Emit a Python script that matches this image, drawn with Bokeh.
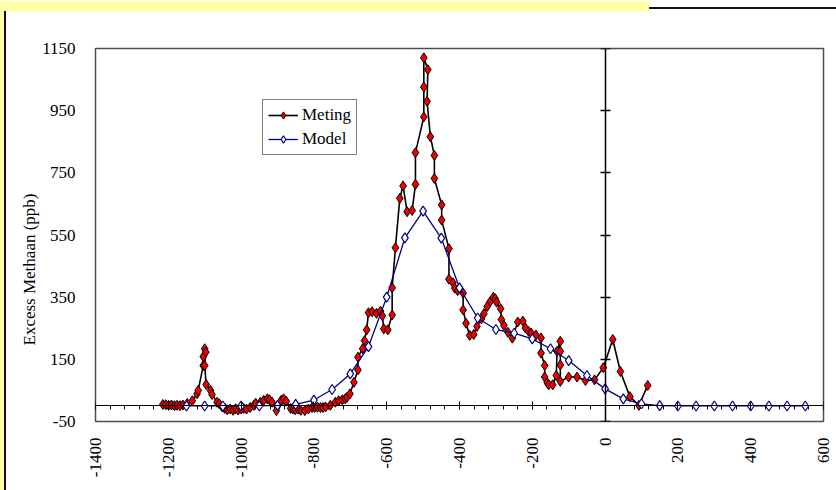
from math import pi
from bokeh.plotting import figure
from bokeh.models import (LinearAxis, FixedTicker, Legend, LegendItem, Div, Title,
                          CustomJSTickFormatter, Range1d, ColumnDataSource)
from bokeh.layouts import column, row
from bokeh.embed import file_html
from bokeh.resources import INLINE

# Measured excess methane along the transect (distance, ppb)
meting_x = [-1215, -1207, -1199, -1191, -1183, -1176, -1168, -1160, -1148, -1134,
            -1121, -1118, -1104, -1104, -1100, -1097, -1100, -1096, -1084, -1080,
            -1066, -1060, -1052, -1045, -1038, -1030, -1022, -1015, -1008, -1000,
            -993, -985, -975, -965, -960, -947, -938, -928, -922, -915,
            -903, -897, -890, -883, -876, -864, -857, -851, -843, -836,
            -825, -815, -805, -798, -790, -782, -775, -768, -755, -741,
            -732, -722, -714, -709, -701, -690, -679, -679, -666, -661,
            -655, -650, -640, -628, -617, -612, -608, -597, -585, -585,
            -576, -564, -555, -544, -530, -521, -521, -498, -498, -498,
            -487, -489, -480, -469, -469, -449, -449, -429, -429, -418,
            -413, -405, -390, -390, -382, -372, -361, -352, -340, -333,
            -324, -315, -307, -302, -298, -287, -285, -278, -267, -255,
            -240, -226, -219, -210, -203, -190, -176, -176, -166, -166,
            -159, -155, -144, -134, -132, -123, -123, -123, -123, -100,
            -77, -54, -29, -5, 21, 42, 68, 93, 117]
meting_y = [5, 4, 2, 3, 1, 2, 1, 3, 8, 17,
            39, 50, 130, 159, 184, 173, 130, 69, 50, 37,
            12, 7, -3, -8, -12, -10, -14, -9, -13, -10,
            -8, -10, -5, 2, 9, 12, 18, 23, 20, 12,
            -15, 5, 18, 23, 15, -8, -10, -12, -10, -14,
            -15, -10, -5, -5, -4, -5, -5, -3, 2, 12,
            17, 20, 23, 28, 39, 76, 116, 157, 184, 210,
            245, 300, 303, 298, 305, 290, 248, 245, 293, 380,
            509, 668, 708, 625, 629, 713, 815, 930, 1026, 1120,
            1082, 980, 866, 806, 732, 647, 598, 506, 408, 396,
            379, 371, 363, 309, 266, 227, 230, 256, 280, 297,
            320, 337, 350, 345, 334, 313, 278, 259, 237, 218,
            270, 273, 251, 240, 234, 228, 219, 170, 130, 93,
            75, 68, 68, 98, 176, 208, 176, 132, 79, 93,
            93, 82, 84, 123, 214, 111, 30, 2, 66]

# Modelled excess methane, every 50 units
model_x = [-1150, -1100, -1050, -1000, -950, -900, -850, -800, -750, -700,
           -650, -600, -550, -500, -450, -400, -350, -300, -250, -200,
           -150, -100, -50, 0, 50, 100, 150, 200, 250, 300,
           350, 400, 450, 500, 550]
model_y = [0, 0, 0, 0, 0, 2, 5, 19, 53, 103,
           191, 350, 541, 627, 540, 380, 283, 246, 234, 216,
           184, 146, 98, 55, 23, 7, 1, 0, 0, 0,
           0, 0, 0, 0, 0]

x_ticks = [-1400, -1200, -1000, -800, -600, -400, -200, 0, 200, 400, 600]
x_minor = list(range(-1400, 601, 40))
y_ticks = [-50, 150, 350, 550, 750, 950, 1150]
y_title = "Excess Methaan (ppb)"

assert len(meting_x) == len(meting_y)
assert len(model_x) == len(model_y)

FONT = "Liberation Serif"
SIZE = "17px"

p = figure(width=828, height=479,
           x_range=Range1d(-1400, 600), y_range=Range1d(-50, 1150),
           output_backend="svg", toolbar_location=None,
           min_border_left=87, min_border_right=13,
           min_border_top=37, min_border_bottom=69,
           background_fill_color="white", border_fill_color="white")
p.grid.visible = False
p.outline_line_color = "#4d4d4d"
p.outline_line_width = 1.5

plain = CustomJSTickFormatter(code="return String(tick)")
blank = CustomJSTickFormatter(code="return ''")

# Labelled axes on the frame edges (labels only)
p.xaxis.ticker = FixedTicker(ticks=x_ticks, minor_ticks=[])
p.xaxis.formatter = plain
p.xaxis.axis_line_color = None
p.xaxis.major_tick_line_color = None
p.xaxis.minor_tick_line_color = None
p.xaxis.major_label_orientation = pi / 2
p.xaxis.major_label_standoff = 10
p.xaxis.major_label_text_font = FONT
p.xaxis.major_label_text_font_size = SIZE
p.xaxis.major_label_text_color = "black"

p.yaxis.ticker = FixedTicker(ticks=y_ticks, minor_ticks=[])
p.yaxis.formatter = plain
p.yaxis.axis_line_color = None
p.yaxis.major_tick_line_color = None
p.yaxis.minor_tick_line_color = None
p.yaxis.major_label_standoff = 14
p.yaxis.major_label_text_font = FONT
p.yaxis.major_label_text_font_size = SIZE
p.yaxis.major_label_text_color = "black"

# Axes crossing at zero, ticks only
x0 = LinearAxis(fixed_location=0,
                ticker=FixedTicker(ticks=x_ticks, minor_ticks=x_minor),
                formatter=blank, axis_line_color="black", axis_line_width=1,
                major_tick_in=4, major_tick_out=4, major_tick_line_width=1,
                minor_tick_in=0, minor_tick_out=4, minor_tick_line_width=1,
                major_label_text_font_size="1px")
p.add_layout(x0, "below")

y0 = LinearAxis(fixed_location=0,
                ticker=FixedTicker(ticks=y_ticks, minor_ticks=[]),
                formatter=blank, axis_line_color="black", axis_line_width=1.5,
                major_tick_in=5, major_tick_out=5, major_tick_line_width=1.5,
                minor_tick_line_color=None,
                major_label_text_font_size="1px")
p.add_layout(y0, "left")

# Vertical axis title, anchored from the bottom of the frame
p.add_layout(Title(text=y_title, align="left", offset=76,
                   vertical_align="middle", standoff=0,
                   text_font=FONT, text_font_size=SIZE,
                   text_font_style="normal", text_color="black"), "left")

src_m = ColumnDataSource(dict(x=meting_x, y=meting_y))
src_d = ColumnDataSource(dict(x=model_x, y=model_y))

ml = p.line("x", "y", source=src_m, line_color="black", line_width=1.6)
ms = p.scatter("x", "y", source=src_m, marker="diamond", size=10,
               fill_color="#ee0000", line_color="black", line_width=1)
dl = p.line("x", "y", source=src_d, line_color="#000080", line_width=1.3)
ds = p.scatter("x", "y", source=src_d, marker="diamond", size=10,
               fill_color="white", line_color="#000080", line_width=1.2)

legend = Legend(items=[LegendItem(label="Meting", renderers=[ml, ms]),
                       LegendItem(label="Model", renderers=[dl, ds])],
                location=(167, 266), margin=0, padding=5, spacing=4,
                glyph_height=18, glyph_width=30, label_standoff=4,
                label_text_font=FONT, label_text_font_size=SIZE,
                label_text_color="black",
                border_line_color="black", border_line_width=1,
                background_fill_color="white", background_fill_alpha=1)
p.add_layout(legend)

top = Div(width=836, height=11, margin=0,
          text='<div style="display:flex;width:836px;height:11px;">'
               '<div style="width:649px;height:11px;background:#ffffaa;"></div>'
               '<div style="width:187px;height:8px;border-bottom:2px solid #111;"></div>'
               '</div>')
side = Div(width=8, height=479, margin=0,
           text='<div style="width:6px;height:479px;background:#ffffaa;'
                'border-right:2px solid #111;"></div>')

layout = column(top, row(side, p, spacing=0), spacing=0)

open("out.html", "w").write(file_html(layout, INLINE))
